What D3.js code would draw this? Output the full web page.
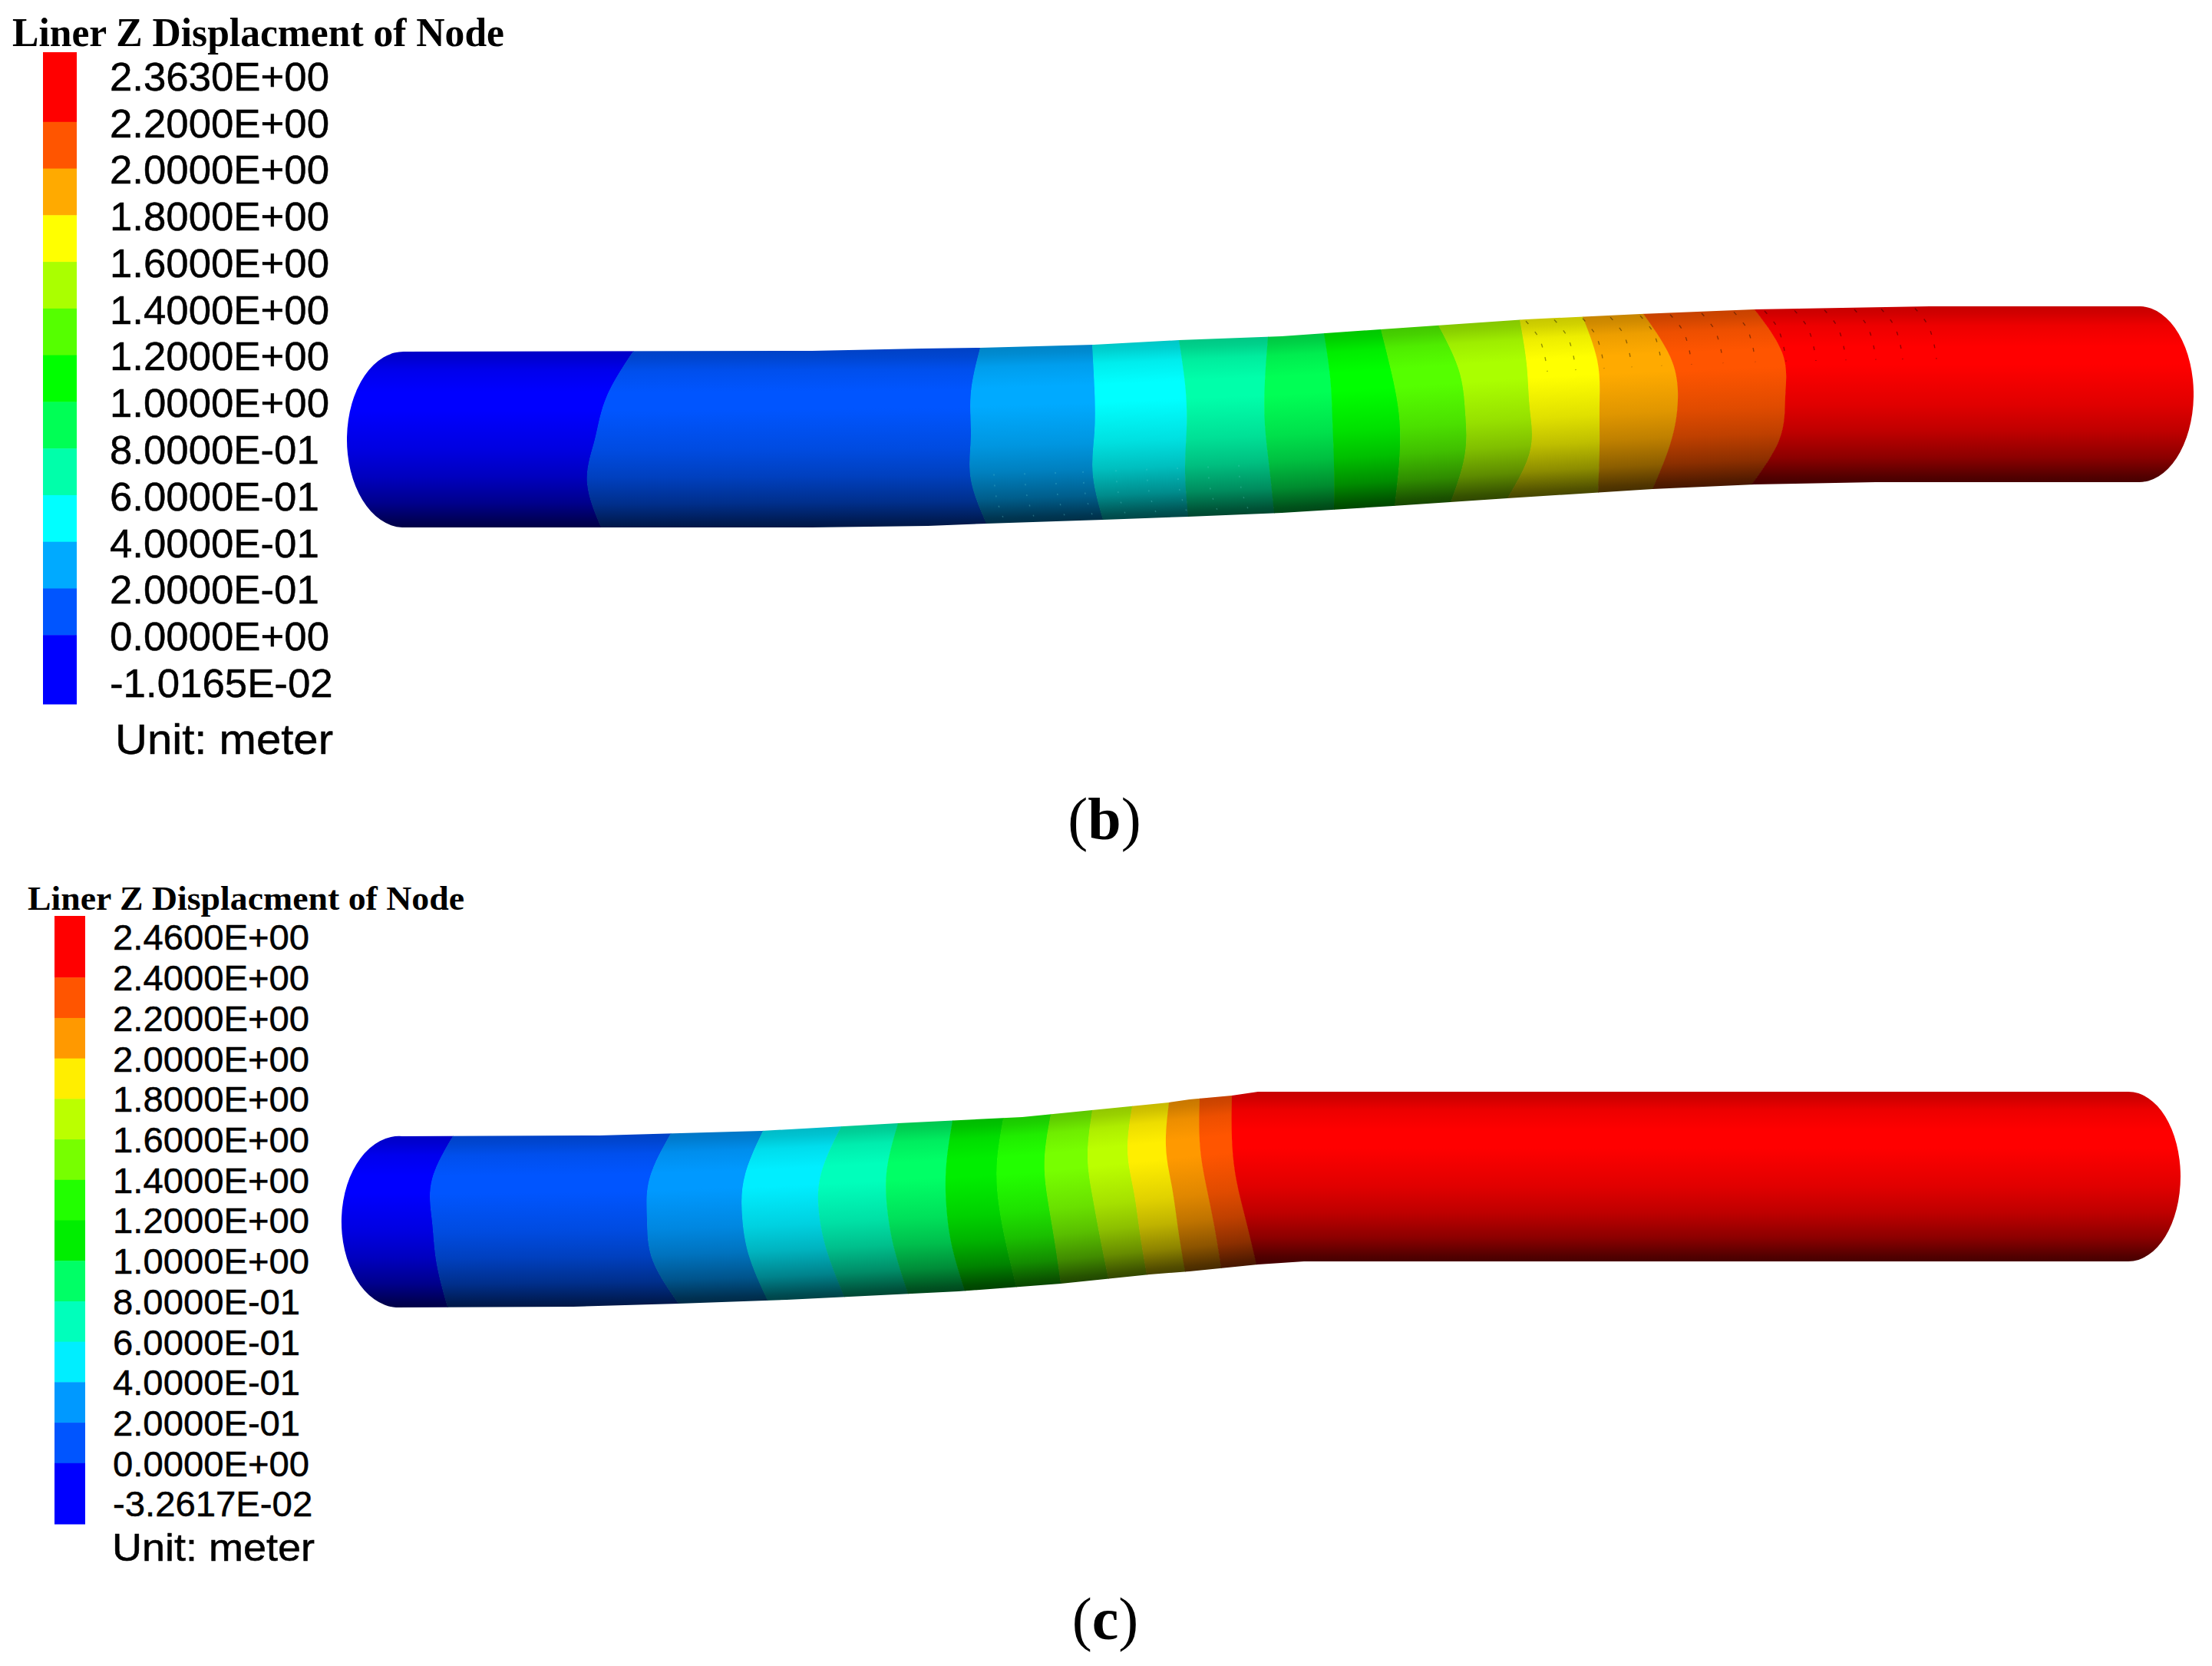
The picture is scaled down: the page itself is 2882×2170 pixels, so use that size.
<!DOCTYPE html>
<html><head><meta charset="utf-8">
<script src="https://d3js.org/d3.v7.min.js"></script>
<style>html,body{margin:0;padding:0;background:#fff}svg{display:block}</style></head>
<body><svg id="c" width="2882" height="2170"></svg>
<script>
const titleText = "Liner Z Displacment of Node";
const unitText = "Unit: meter";

const labelsB = ["2.3630E+00","2.2000E+00","2.0000E+00","1.8000E+00","1.6000E+00","1.4000E+00","1.2000E+00","1.0000E+00","8.0000E-01","6.0000E-01","4.0000E-01","2.0000E-01","0.0000E+00","-1.0165E-02"];
const coloursB = ["#ff0000","#ff5500","#ffaa00","#ffff00","#aaff00","#55ff00","#00ff00","#00ff55","#00ffaa","#00ffff","#00aaff","#0055ff","#0000ff"];
const labelsC = ["2.4600E+00","2.4000E+00","2.2000E+00","2.0000E+00","1.8000E+00","1.6000E+00","1.4000E+00","1.2000E+00","1.0000E+00","8.0000E-01","6.0000E-01","4.0000E-01","2.0000E-01","0.0000E+00","-3.2617E-02"];
const coloursC = ["#ff0000","#ff5500","#ff9900","#ffee00","#bbff00","#77ff00","#22ff00","#00ee00","#00ff66","#00ffbb","#00eeff","#0099ff","#0055ff","#0000ff"];

// tube outlines: [x, y]
const topEdgeB = [[528,458],[1058,457],[1201,454],[1277,453],[1425,449],[1536,443],[1670,438],[1799,429],[1988,416],[2137,409],[2286,403],[2514,399],[2789,399]];
const bottomEdgeB = [[524,687],[1058,687],[1209,685],[1285,682],[1437,677],[1548,673],[1670,668],[1815,659],[1964,649],[2153,637],[2286,631],[2444,628],[2785,628]];
const topEdgeC = [[524,1480],[781,1479],[992,1473],[1170,1463],[1332,1455],[1523,1436],[1550,1432],[1605,1427],[1639,1422],[2773,1422]];
const bottomEdgeC = [[516,1703],[747,1702],[884,1698],[1025,1693],[1249,1682],[1382,1672],[1498,1660],[1550,1656],[1639,1647],[1699,1643],[2773,1643]];

// contour boundaries along the tube: x at v = 0, .25, .5, .75, 1 across it
const contourV = [0,0.25,0.5,0.75,1];
const contoursB = [
 [825,791,775,765,783],[1277,1265,1265,1265,1285],[1423,1426,1426,1424,1437],[1536,1544,1546,1544,1548],
 [1652,1648,1648,1654,1660],[1725,1733,1736,1738,1738],[1799,1813,1823,1823,1817],[1874,1900,1909,1908,1890],
 [1980,1989,1993,1993,1964],[2062,2081,2084,2084,2082],[2141,2176,2186,2176,2153],[2286,2322,2326,2318,2282]];
const contoursC = [
 [590,563,563,569,583],[874,847,843,851,884],[994,971,967,977,1000],[1096,1071,1067,1079,1100],
 [1170,1156,1156,1166,1183],[1241,1233,1233,1241,1257],[1307,1299,1301,1311,1324],[1369,1361,1365,1374,1382],
 [1423,1417,1423,1433,1444],[1475,1469,1477,1485,1494],[1523,1519,1527,1535,1544],[1563,1563,1571,1582,1591],
 [1605,1605,1611,1624,1637]];

// mesh ring artefacts of panel (b): x where each ring meets an edge
const darkRingsB = [1988,2025,2062,2098,2137,2176,2217,2259,2299,2338,2377,2416,2451,2495];
const darkRingBowV = [0.01,0.1,0.2,0.3];
const darkRingBowX = [0,16,24,28];
const lightRingsB = [1301,1341,1381,1417,1460,1500,1540,1580,1620];
const lightRingBowV = [0.72,0.85,0.99];
const lightRingBowX = [-6,-3,8];

// brightness of the lit tube across its width
const shadeV = [0,0.04,0.11,0.23,0.33,0.56,0.71,0.86,0.97,1];
const shadeK = [0.78,0.82,0.93,1,1,0.88,0.75,0.55,0.32,0.28];

const svg = d3.select("#c");
const defs = svg.append("defs");
const SANS = "'Liberation Sans',Arial,sans-serif", SERIF = "'Liberation Serif','Times New Roman',serif";

function fitted(g, text, x, y, width, size, family, weight, heavy){
  return g.append("text").attr("x",x).attr("y",y).attr("font-family",family).attr("font-size",size)
    .attr("font-weight",weight||"normal").attr("fill","#000")
    .attr("stroke",heavy?"#000":"none").attr("stroke-width",heavy||0)
    .attr("textLength",width).attr("lengthAdjust","spacingAndGlyphs").text(text);
}

function legend(cfg){
  const g = svg.append("g");
  fitted(g,titleText,cfg.titleX,cfg.titleY,cfg.titleW,cfg.titleSize,SERIF,"bold");
  const n = cfg.labels.length;
  const y = d3.scaleLinear().domain([0,n-1]).range([cfg.y0,cfg.y1]);
  const edge = i => i===0 ? cfg.barTop : i===n-1 ? cfg.barBottom : y(i)+cfg.edgeShift;
  g.selectAll("rect").data(cfg.colours).join("rect")
    .attr("x",cfg.barX).attr("width",cfg.barW)
    .attr("y",(d,i)=>edge(i)).attr("height",(d,i)=>edge(i+1)-edge(i)+0.5)
    .attr("fill",d=>d);
  const f = cfg.labelW/5.421;
  cfg.labels.forEach((t,i)=>{
    const w = t.length===11 ? 5.51 : (t.includes("-") ? 5.170 : 5.421);
    fitted(g,t,cfg.labelX,y(i)+cfg.labelSize*0.35,w*f,cfg.labelSize,SANS,"normal",0.5);
  });
  fitted(g,unitText,cfg.unitX,cfg.unitY,cfg.unitW,cfg.unitSize,SANS,"normal",0.5);
}

function tube(cfg){
  const id = cfg.id;
  const topY = d3.scaleLinear().domain(cfg.top.map(d=>d[0])).range(cfg.top.map(d=>d[1])).clamp(true);
  const botY = d3.scaleLinear().domain(cfg.bottom.map(d=>d[0])).range(cfg.bottom.map(d=>d[1])).clamp(true);
  const yAt = (x,v)=>topY(x)+(botY(x)-topY(x))*v;
  const tl=cfg.top[0], tr=cfg.top[cfg.top.length-1], bl=cfg.bottom[0], br=cfg.bottom[cfg.bottom.length-1];
  const edge = d3.line();
  const outline = edge(cfg.top)
    + `A${cfg.rxR},${(br[1]-tr[1])/2} 0 0 1 ${br[0]},${br[1]}`
    + "L"+cfg.bottom.slice().reverse().map(d=>d.join(",")).join("L")
    + `A${cfg.rxL},${(bl[1]-tl[1])/2} 0 0 1 ${tl[0]},${tl[1]}Z`;
  defs.append("clipPath").attr("id","clip"+id).append("path").attr("d",outline);
  const g = svg.append("g").attr("clip-path",`url(#clip${id})`);
  const curve = d3.line().curve(d3.curveNatural);
  const pad = 0.1;
  const side = (xs)=>{
    const pts = xs.map((x,i)=>[x,yAt(x,contourV[i])]);
    const last = xs.length-1;
    const startX = xs[0]+(xs[0]-xs[1])*pad/0.25, endX = xs[last]+(xs[last]-xs[last-1])*pad/0.25;
    pts.unshift([startX,yAt(xs[0],-pad)]); pts.push([endX,yAt(xs[last],1+pad)]);
    return pts;
  };
  const minX=cfg.rangeX[0], maxX=cfg.rangeX[1];
  const n = cfg.colours.length;
  const shade = d3.scaleLinear().domain(shadeV).range(shadeK);
  for(let i=0;i<n;i++){
    // colours run low to high along the tube: last legend colour is at the left end
    const colour = cfg.colours[n-1-i];
    const xsL = i===0 ? contourV.map(()=>minX) : cfg.contours[i-1];
    const xsR = i===n-1 ? contourV.map(()=>maxX) : cfg.contours[i].map(x=>x+0.6);
    const xm = d3.mean([d3.mean(xsL),d3.mean(xsR)]);
    const xc = Math.min(Math.max(xm,cfg.top[0][0]),tr[0]);
    const dx = Math.max(d3.mean(xsR)-d3.mean(xsL),1);
    const span = Math.min(dx,200);
    const m = ((topY(xc+span/2)+botY(xc+span/2))-(topY(xc-span/2)+botY(xc-span/2)))/2/span;
    const h = botY(xc)-topY(xc), x1=xc, y1=topY(xc);
    const k = h/(1+m*m);
    const gid = `g${id}${i}`;
    const lg = defs.append("linearGradient").attr("id",gid).attr("gradientUnits","userSpaceOnUse")
      .attr("x1",x1).attr("y1",y1).attr("x2",x1-m*k).attr("y2",y1+k);
    shadeV.forEach((v,j)=>{
      const c = d3.rgb(colour);
      lg.append("stop").attr("offset",v)
        .attr("stop-color",d3.rgb(c.r*shade(v),c.g*shade(v),c.b*shade(v)).formatHex());
    });
    const L = side(xsL), R = side(xsR);
    const d = curve(L) + "L" + curve(R.slice().reverse()).slice(1) + "Z";
    g.append("path").attr("d",d).attr("fill",`url(#${gid})`);
  }
  // faint dotted mesh rings
  (cfg.rings||[]).forEach(r=>{
    r.xs.forEach(x0=>{
      const pts = r.v.map((v,j)=>{const x=x0+r.bow[j];return [x,yAt(x,v)];});
      g.append("path").attr("d",d3.line().curve(d3.curveMonotoneY)(pts))
        .attr("fill","none").attr("stroke",r.stroke).attr("stroke-width",1.4).attr("stroke-dasharray",r.dash);
    });
  });
}

legend({labels:labelsB,colours:coloursB,titleX:16,titleY:60,titleW:641,titleSize:53,
  barX:56,barW:44,barTop:68,barBottom:917,y0:100,y1:890,edgeShift:-2,labelX:143,labelW:286,labelSize:51,
  unitX:150,unitY:982,unitW:284,unitSize:55});
tube({id:"b",top:topEdgeB,bottom:bottomEdgeB,contours:contoursB,colours:coloursB,rxL:74,rxR:71,rangeX:[440,2870],
  rings:[{xs:darkRingsB,v:darkRingBowV,bow:darkRingBowX,stroke:"rgba(0,0,0,0.4)",dash:"5 13"},
         {xs:lightRingsB,v:lightRingBowV,bow:lightRingBowX,stroke:"rgba(110,220,220,0.3)",dash:"2 12"}]});
legend({labels:labelsC,colours:coloursC,titleX:36,titleY:1185,titleW:569,titleSize:45,
  barX:71,barW:40,barTop:1193,barBottom:1985,y0:1221,y1:1959,edgeShift:-0.5,labelX:147,labelW:256,labelSize:47,
  unitX:146,unitY:2033,unitW:264,unitSize:50});
tube({id:"c",top:topEdgeC,bottom:bottomEdgeC,contours:contoursC,colours:coloursC,rxL:75,rxR:68,rangeX:[430,2860]});

function panel(letter,x,y){
  const t = svg.append("text").attr("x",x).attr("y",y).attr("text-anchor","middle")
    .attr("font-family",SERIF).attr("font-size",78).attr("fill","#000");
  t.append("tspan").text("(");
  t.append("tspan").attr("font-weight","bold").text(letter);
  t.append("tspan").text(")");
}
panel("b",1439,1093);
panel("c",1440,2135);
</script></body></html>
